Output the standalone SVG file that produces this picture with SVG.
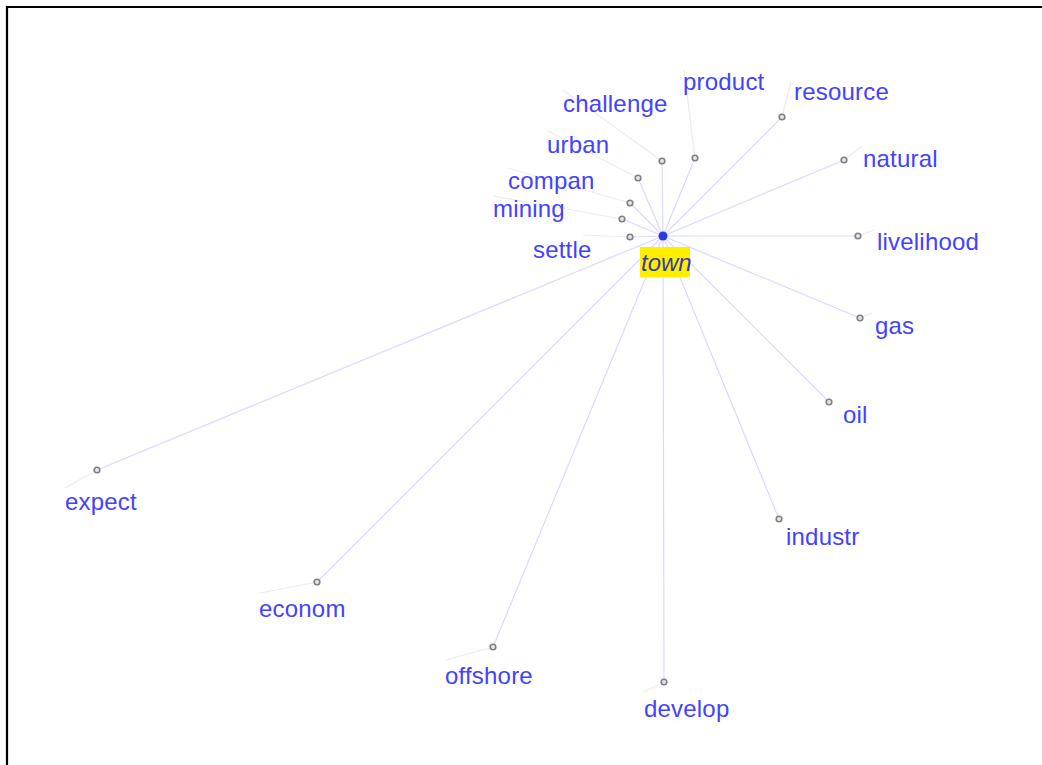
<svg xmlns="http://www.w3.org/2000/svg" width="1042" height="765" viewBox="0 0 1042 765">
<style>
.lbl{font-family:"Liberation Sans",Arial,sans-serif;font-size:24px;letter-spacing:0.2px;fill:#4242ff}
.e{stroke:#d9d9ff;stroke-width:1.2;fill:none}
.l{stroke:#ececec;stroke-width:1.2;fill:none}
.n{fill:#e6e6e6;stroke:#808080;stroke-width:1.6}
</style>
<rect width="1042" height="765" fill="#fff"/>
<path d="M7 765V7H1042" stroke="#000" stroke-width="2.2" fill="none"/>
<g id="connectors">
<path class="e" d="M663 236L695 158M663 236L662 161M663 236L638 178M663 236L630 203M663 236L622 219M663 236L630 237M663 236L782 117M663 236L844 160M663 236L858 236M663 236L860 318M663 236L829 402M663 236L779 519M663 236L664 682M663 236L493 647M663 236L317 582M663 236L97 470"/>
<path class="l" d="M695 158L684 70M662 161L563 90M638 178L548 131M630 203L508 168M622 219L493 196M630 237L583 235M782 117L791 81M844 160L862 146M858 236L874 230M860 318L872 313M97 470L65 488M317 582L260 593M493 647L446 660M664 682L644 692"/>
</g>
<g id="n-town"><rect x="640" y="247" width="50" height="30" fill="#ffee00"/><circle cx="663" cy="236" r="4.5" fill="#2a3ae0"/><text x="641" y="271" class="lbl" style="font-style:italic;fill:#3a3aa8;letter-spacing:0">town</text></g>
<g id="n-product"><circle class="n" cx="695" cy="158" r="2.8"/><text class="lbl" x="683" y="90">product</text></g>
<g id="n-challenge"><circle class="n" cx="662" cy="161" r="2.8"/><text class="lbl" x="563" y="112">challenge</text></g>
<g id="n-urban"><circle class="n" cx="638" cy="178" r="2.8"/><text class="lbl" x="547" y="153">urban</text></g>
<g id="n-compan"><circle class="n" cx="630" cy="203" r="2.8"/><text class="lbl" x="508" y="189">compan</text></g>
<g id="n-mining"><circle class="n" cx="622" cy="219" r="2.8"/><text class="lbl" x="493" y="217">mining</text></g>
<g id="n-settle"><circle class="n" cx="630" cy="237" r="2.8"/><text class="lbl" x="533" y="258">settle</text></g>
<g id="n-resource"><circle class="n" cx="782" cy="117" r="2.8"/><text class="lbl" x="794" y="100">resource</text></g>
<g id="n-natural"><circle class="n" cx="844" cy="160" r="2.8"/><text class="lbl" x="863" y="167">natural</text></g>
<g id="n-livelihood"><circle class="n" cx="858" cy="236" r="2.8"/><text class="lbl" x="877" y="250">livelihood</text></g>
<g id="n-gas"><circle class="n" cx="860" cy="318" r="2.8"/><text class="lbl" x="875" y="334">gas</text></g>
<g id="n-oil"><circle class="n" cx="829" cy="402" r="2.8"/><text class="lbl" x="843" y="423">oil</text></g>
<g id="n-industr"><circle class="n" cx="779" cy="519" r="2.8"/><text class="lbl" x="786" y="545">industr</text></g>
<g id="n-develop"><circle class="n" cx="664" cy="682" r="2.8"/><text class="lbl" x="644" y="717">develop</text></g>
<g id="n-offshore"><circle class="n" cx="493" cy="647" r="2.8"/><text class="lbl" x="445" y="684">offshore</text></g>
<g id="n-econom"><circle class="n" cx="317" cy="582" r="2.8"/><text class="lbl" x="259" y="617">econom</text></g>
<g id="n-expect"><circle class="n" cx="97" cy="470" r="2.8"/><text class="lbl" x="65" y="510">expect</text></g>
</svg>
